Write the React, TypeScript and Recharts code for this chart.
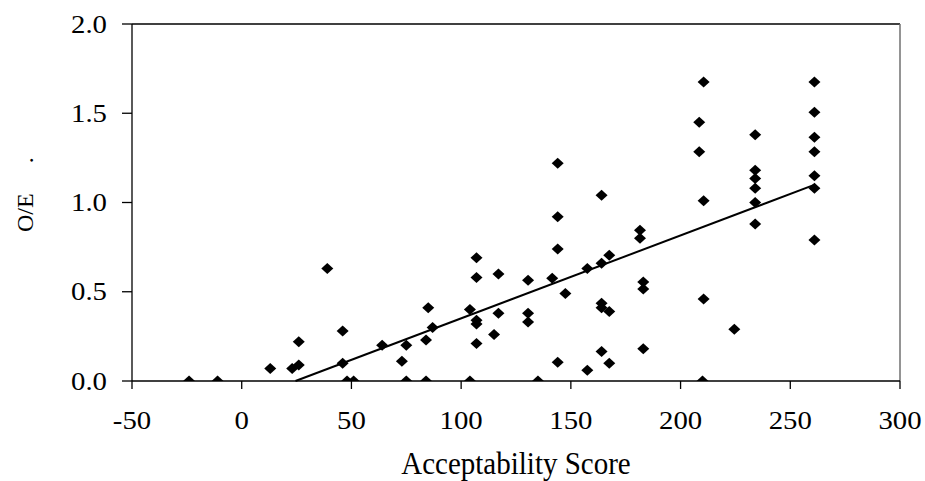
import React from "react";
import { ScatterChart, Scatter, XAxis, YAxis, ReferenceLine } from "recharts";

const scoreValues = [
  -24, -11, 48, 51, 75, 84, 104, 135, 210,
  13, 23, 26, 26, 39, 46, 46,
  64, 75, 73, 85, 84, 87,
  104, 107, 107, 107, 107, 107,
  117, 117, 115,
  130.5, 130.5, 130.5,
  144, 144, 144, 141.5, 147.5, 144,
  157.5, 157.5,
  164, 164, 167.5, 164, 164, 167.5, 164, 167.5,
  181.5, 181.5, 183, 183, 183,
  210.5, 208.5, 208.5, 210.5, 210.5,
  224.5,
  234, 234, 234, 234, 234, 234,
  261, 261, 261, 261, 261, 261, 261,
];
const oeValues = [
  0, 0, 0, 0, 0, 0, 0, 0, 0,
  0.07, 0.07, 0.09, 0.22, 0.63, 0.28, 0.1,
  0.2, 0.2, 0.11, 0.41, 0.23, 0.3,
  0.4, 0.69, 0.58, 0.34, 0.32, 0.21,
  0.6, 0.38, 0.26,
  0.565, 0.38, 0.33,
  1.22, 0.92, 0.74, 0.575, 0.49, 0.105,
  0.63, 0.06,
  1.04, 0.66, 0.705, 0.435, 0.41, 0.39, 0.165, 0.1,
  0.845, 0.8, 0.555, 0.515, 0.18,
  1.675, 1.45, 1.285, 1.01, 0.46,
  0.29,
  1.38, 1.18, 1.135, 1.08, 1.0, 0.88,
  1.675, 1.505, 1.365, 1.285, 1.15, 1.08, 0.79,
];
const trendX = [24.5, 261.2];
const trendY = [0, 1.1];
const xTicks = [-50, 0, 50, 100, 150, 200, 250, 300];
const yTicks = [0, 0.5, 1, 1.5, 2];

const points = scoreValues.map((x, i) => ({ x, y: oeValues[i] }));
const trendSegment = trendX.map((x, i) => ({ x, y: trendY[i] }));

const FONT = "'Liberation Serif', 'Times New Roman', serif";

const XTick = (props: any) => {
  const { x, y, payload } = props;
  const by = y + 40;
  return (
    <text
      x={x}
      y={by}
      textAnchor="middle"
      fontFamily={FONT}
      fontSize={25}
      fill="#000"
      transform={`translate(${x} 0) scale(1.15 1) translate(${-x} 0)`}
    >
      {payload.value}
    </text>
  );
};

const YTick = (props: any) => {
  const { x, y, payload } = props;
  const ax = x - 15;
  return (
    <text
      x={ax}
      y={y}
      dy="0.35em"
      textAnchor="end"
      fontFamily={FONT}
      fontSize={25}
      fill="#000"
      transform={`translate(${ax} 0) scale(1.15 1) translate(${-ax} 0)`}
    >
      {Number(payload.value).toFixed(1)}
    </text>
  );
};

const XTitle = () => (
  <text
    x={516}
    y={474}
    textAnchor="middle"
    fontFamily={FONT}
    fontSize={29}
    fill="#000"
    transform={`translate(516 474) scale(1 1.08) translate(-516 -474)`}
  >
    Acceptability Score
  </text>
);

const YTitle = () => (
  <text
    x={33}
    y={232}
    textAnchor="start"
    fontFamily={FONT}
    fontSize={24}
    fill="#000"
    transform="rotate(-90 33 232)"
  >
    {"O/E\u00A0\u00A0\u00A0\u00A0\u00A0."}
  </text>
);

const Diamond = (props: any) => {
  const { cx, cy } = props;
  if (cx == null || cy == null) return null;
  const w = 6;
  const h = 5.5;
  return (
    <polygon
      points={`${cx},${cy - h} ${cx + w},${cy} ${cx},${cy + h} ${cx - w},${cy}`}
      fill="#000"
    />
  );
};

export default function App() {
  return (
    <div style={{ position: "absolute", left: 0, top: 0, width: 925, height: 481, background: "#fff" }}>
      <ScatterChart width={925} height={481} margin={{ top: 24, right: 25, bottom: 0, left: 0 }}>
        <XAxis
          type="number"
          dataKey="x"
          domain={[-50, 300]}
          ticks={xTicks}
          interval={0}
          allowDataOverflow
          height={100}
          tickSize={8}
          tickMargin={0}
          axisLine={{ stroke: "#000", strokeWidth: 1.3 }}
          tickLine={{ stroke: "#000", strokeWidth: 1.3 }}
          tick={<XTick />}
          label={<XTitle />}
        />
        <YAxis
          type="number"
          dataKey="y"
          domain={[0, 2]}
          ticks={yTicks}
          interval={0}
          allowDataOverflow
          width={132}
          tickSize={10}
          tickMargin={0}
          axisLine={{ stroke: "#000", strokeWidth: 1.3 }}
          tickLine={{ stroke: "#000", strokeWidth: 1.3 }}
          tick={<YTick />}
          label={<YTitle />}
        />
        <ReferenceLine y={2} stroke="#000" strokeWidth={1.3} />
        <ReferenceLine x={300} stroke="#707070" strokeWidth={1.5} />
        <ReferenceLine segment={trendSegment} stroke="#000" strokeWidth={2} />
        <Scatter data={points} shape={<Diamond />} isAnimationActive={false} />
      </ScatterChart>
    </div>
  );
}
